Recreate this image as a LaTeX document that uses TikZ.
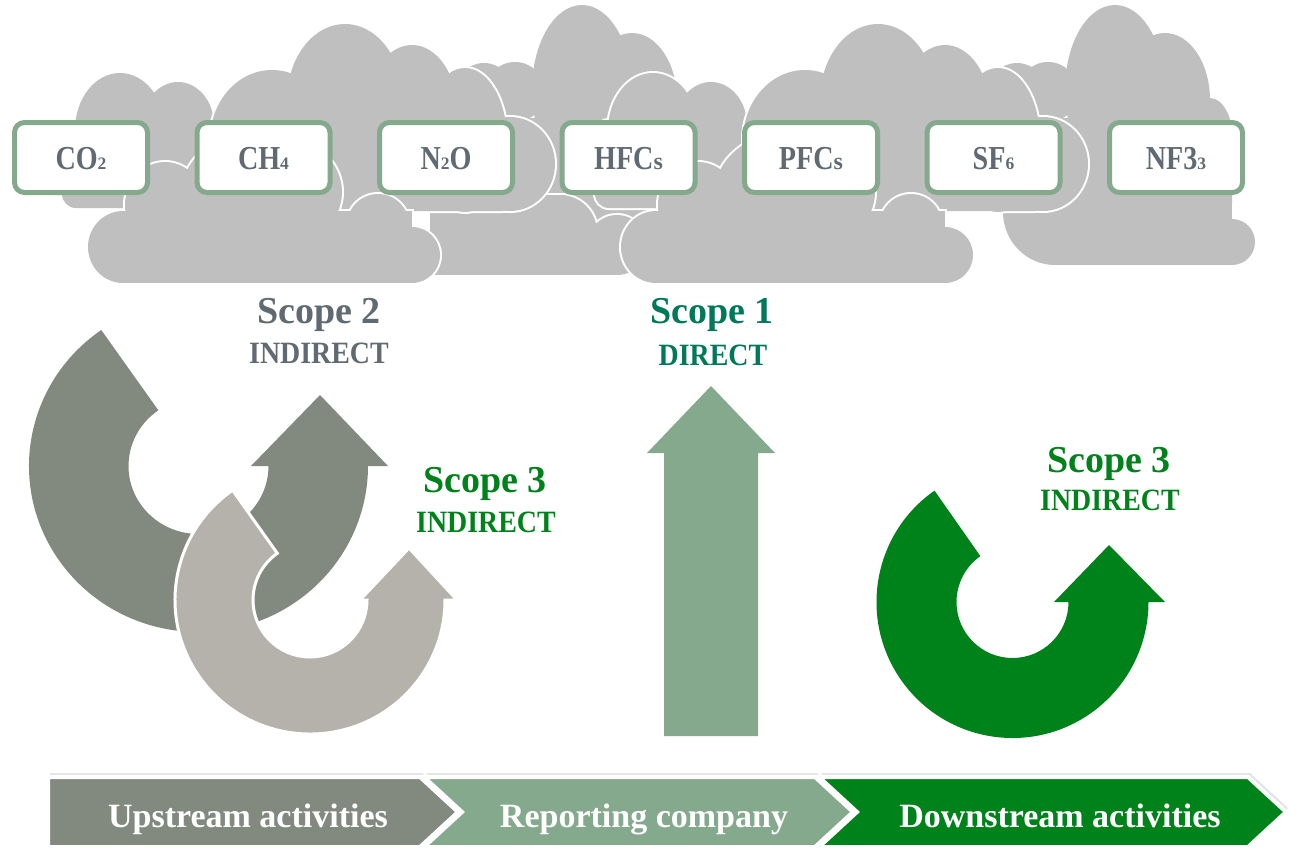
\documentclass[tikz,border=0pt]{standalone}
\usepackage{fontspec}
\setmainfont{Liberation Serif}
\usepackage{graphicx}
\definecolor{cloudgray}{HTML}{BFBFBF}
\definecolor{boxgreen}{HTML}{84A98C}
\definecolor{gastext}{HTML}{5F6A72}
\definecolor{darkgraygreen}{HTML}{828A7F}
\definecolor{lightgraytwo}{HTML}{B5B2AB}
\definecolor{brightgreen}{HTML}{00821B}
\definecolor{tealgreen}{HTML}{00785A}
\newcommand\gmain[1]{\scalebox{0.84}[1]{#1}}
\newcommand\gsub[1]{{\fontsize{17.5}{17.5}\selectfont #1}}
\newcommand\gsubs{{\fontsize{24}{24}\selectfont s}}
% clouds (pixel coordinates, y downwards)
\newcommand\cloudA[1]{%
 \path[#1] (120,130) ellipse[x radius=45,y radius=57];
 \path[#1] (178,125) ellipse[x radius=36,y radius=43];
 \path[#1,rounded corners=14pt] (62,120) rectangle (210,208);
}
\newcommand\cloudB[1]{%
 \path[#1] (272,140) ellipse[x radius=62,y radius=70];
 \path[#1] (345,100) ellipse[x radius=58,y radius=76];
 \path[#1] (412,110) ellipse[x radius=45,y radius=65];
 \path[#1] (465,140) ellipse[x radius=42,y radius=72];
 \path[#1] (510,164) ellipse[x radius=45,y radius=47];
 \path[#1,rounded corners=10pt] (212,130) rectangle (512,211);
}
\newcommand\cloudC[1]{%
 \path[#1] (123,247) ellipse[x radius=35,y radius=36];
 \path[#1] (165,205) ellipse[x radius=40,y radius=43];
 \path[#1] (262,192) ellipse[x radius=80,y radius=62];
 \path[#1] (378,225) circle[radius=31];
 \path[#1] (412,255) circle[radius=28];
 \path[#1] (123,211) rectangle (412,283);
}
\newcommand\cloudD[1]{%
 \path[#1,rounded corners=8pt] (1003,118) rectangle (1232,212);
 \path[#1] (1055,150) rectangle (1232,265);
 \path[#1] (1055,212) ellipse[x radius=52,y radius=53];
 \path[#1] (1232,242) circle[radius=23];
 \path[#1] (1017,92) circle[radius=29];
 \path[#1] (1048,92) circle[radius=30];
 \path[#1] (1115,90) ellipse[x radius=50,y radius=85];
 \path[#1] (1165,100) ellipse[x radius=45,y radius=67];
 \path[#1] (1210,140) ellipse[x radius=23,y radius=42];
}
\newcommand\cloudE[1]{%
 \path[#1] (430,195) rectangle (565,275);
 \path[#1] (560,232) circle[radius=37];
 \path[#1] (617,245) circle[radius=30];
 \path[#1] (540,245) rectangle (617,275);
}
\tikzset{
 cloudedge/.style={draw=white,line width=4pt},
 cloudfill/.style={fill=cloudgray},
 gasbox/.style={draw=boxgreen,line width=5pt,fill=white,rounded corners=10pt,
   minimum width=133pt,minimum height=70pt,inner sep=0pt,
   text height=23pt,text depth=0pt,text=gastext,
   font=\bfseries\fontsize{33.5}{33.5}\selectfont},
 scopetitle/.style={anchor=base,inner sep=0pt,font=\bfseries\fontsize{38}{38}\selectfont},
 scopesub/.style={anchor=base,inner sep=0pt,font=\bfseries\fontsize{31}{31}\selectfont},
 chevtext/.style={anchor=base,inner sep=0pt,text=white,font=\bfseries\fontsize{34}{34}\selectfont},
 chevron/.style={draw=white,line width=4pt,line join=miter},
 chevshadow/.style={fill=black!10},
}
\begin{document}
\begin{tikzpicture}[x=1pt,y=-1pt]
\useasboundingbox (0,0) rectangle (1291,862);
\fill[white] (0,0) rectangle (1291,862);

% ---- clouds ----
\begin{scope}[xshift=-533pt]
 \cloudD{cloudedge}\cloudD{cloudfill}
\end{scope}
\cloudE{cloudedge}\cloudE{cloudfill}
\cloudA{cloudedge}\cloudA{cloudfill}
\cloudB{cloudedge}\cloudB{cloudfill}
\cloudC{cloudedge}\cloudC{cloudfill}
\cloudD{cloudedge}\cloudD{cloudfill}
\begin{scope}[xshift=533pt]
 \cloudA{cloudedge}\cloudA{cloudfill}
 \cloudB{cloudedge}\cloudB{cloudfill}
 \cloudC{cloudedge}\cloudC{cloudfill}
\end{scope}

% ---- gas boxes ----
\node[gasbox] (co2) at (81,157.5) {\gmain{CO}\gsub{2}};
\node[gasbox] (ch4) at (263.5,157.5) {\gmain{CH}\gsub{4}};
\node[gasbox] (n2o) at (446,157.5) {\gmain{N}\gsub{2}\gmain{O}};
\node[gasbox] (hfcs) at (628.5,157.5) {\gmain{HFC}\gsubs};
\node[gasbox] (pfcs) at (811,157.5) {\gmain{PFC}\gsubs};
\node[gasbox] (sf6) at (993.5,157.5) {\gmain{SF}\gsub{6}};
\node[gasbox] (nf3) at (1176,157.5) {\gmain{NF3}\gsub{3}};

% ---- arrows ----
\fill[darkgraygreen] ([shift={(235:169.5 and 166)}]198.5,466)
  arc[start angle=235,end angle=0,x radius=169.5,y radius=166]
  -- (388,466) -- (320,395) -- (251,466) -- (268.5,466)
  arc[start angle=0,end angle=235,x radius=70,y radius=68] -- cycle;
\filldraw[fill=lightgraytwo,draw=white,line width=3pt,line join=miter]
  ([shift={(235:135 and 134)}]310,600)
  arc[start angle=235,end angle=0,x radius=135,y radius=134]
  -- (457,600) -- (409,548) -- (360,600) -- (367,600)
  arc[start angle=0,end angle=235,x radius=57,y radius=57] -- cycle;
\fill[boxgreen] (664,736) -- (758,736) -- (758,453) -- (775,453) -- (711,386)
  -- (647,453) -- (664,453) -- cycle;
\fill[brightgreen] ([shift={(235:136 and 136)}]1012.5,602)
  arc[start angle=235,end angle=0,x radius=136,y radius=136]
  -- (1165,602) -- (1109,545) -- (1054,602) -- (1068.5,602)
  arc[start angle=0,end angle=235,x radius=56,y radius=56] -- cycle;

% ---- scope labels ----
\node[scopetitle,text=gastext] (s2) at (319,323) {Scope 2};
\node[scopesub,text=gastext] (s2i) at (319,363) {\scalebox{0.9}[1]{INDIRECT}};
\node[scopetitle,text=tealgreen] (s1) at (712,323) {Scope 1};
\node[scopesub,text=tealgreen] (s1d) at (713,365) {\scalebox{0.9}[1]{DIRECT}};
\node[scopetitle,text=brightgreen] (s3a) at (485,492) {Scope 3};
\node[scopesub,text=brightgreen] (s3ai) at (486,532) {\scalebox{0.9}[1]{INDIRECT}};
\node[scopetitle,text=brightgreen] (s3b) at (1109,472) {Scope 3};
\node[scopesub,text=brightgreen] (s3bi) at (1110,510) {\scalebox{0.9}[1]{INDIRECT}};

% ---- bottom chevrons ----
\begin{scope}[xshift=2pt,yshift=4pt]
 \fill[chevshadow] (48,777) -- (420,777) -- (458,812) -- (420,847) -- (48,847) -- cycle;
 \fill[chevshadow] (424,777) -- (815,777) -- (853,812) -- (815,847) -- (424,847) -- (462,812) -- cycle;
 \fill[chevshadow] (819,777) -- (1248,777) -- (1286,812) -- (1248,847) -- (819,847) -- (857,812) -- cycle;
\end{scope}
\filldraw[chevron,fill=brightgreen] (819,777) -- (1248,777) -- (1286,812) -- (1248,847) -- (819,847) -- (857,812) -- cycle;
\filldraw[chevron,fill=boxgreen] (424,777) -- (815,777) -- (853,812) -- (815,847) -- (424,847) -- (462,812) -- cycle;
\filldraw[chevron,fill=darkgraygreen] (48,777) -- (420,777) -- (458,812) -- (420,847) -- (48,847) -- cycle;
\node[chevtext] (up) at (248,827) {Upstream activities};
\node[chevtext] (rep) at (644,827) {Reporting company};
\node[chevtext] (down) at (1060,827) {Downstream activities};
\end{tikzpicture}
\end{document}
